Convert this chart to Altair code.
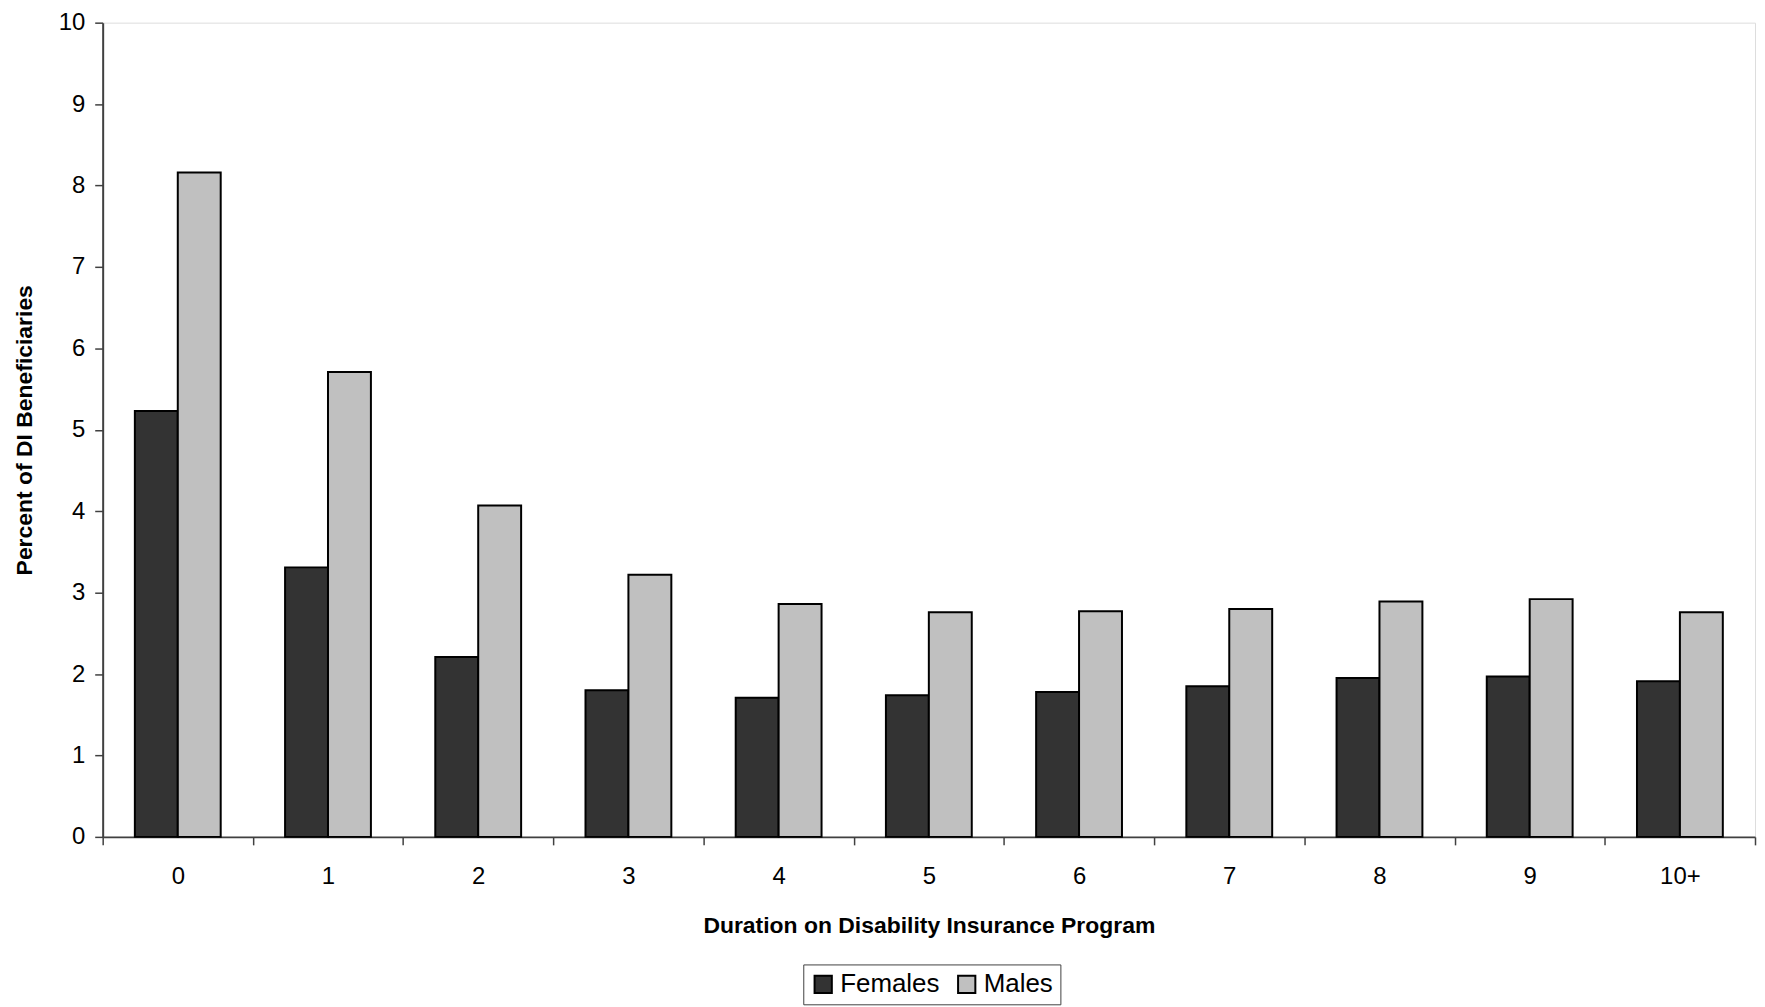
import altair as alt
import pandas as pd

durations = ["0", "1", "2", "3", "4", "5", "6", "7", "8", "9", "10+"]
females = [5.23, 3.31, 2.21, 1.80, 1.71, 1.74, 1.78, 1.85, 1.95, 1.97, 1.91]
males = [8.16, 5.71, 4.07, 3.22, 2.86, 2.76, 2.77, 2.80, 2.89, 2.92, 2.76]
groups = ["Females", "Males"]
colors = ["#333333", "#C0C0C0"]

rows = []
for d, f, m in zip(durations, females, males):
    rows.append({"Duration": d, "Sex": "Females", "Percent": f})
    rows.append({"Duration": d, "Sex": "Males", "Percent": m})
df = pd.DataFrame(rows)

FONT = "Liberation Sans"

chart = alt.Chart(df).mark_bar(stroke="black", strokeWidth=2).encode(
    x=alt.X("Duration:N", sort=durations,
            scale=alt.Scale(paddingInner=0, paddingOuter=0),
            axis=alt.Axis(title="Duration on Disability Insurance Program",
                          labelAngle=0, tickBand="extent", tickSize=8,
                          tickColor="#404040", tickWidth=1.5,
                          domainColor="#404040", domainWidth=2,
                          labelFontSize=24, labelFont=FONT, labelColor="black",
                          labelPadding=20,
                          titleFont=FONT, titleFontSize=23, titleFontWeight="bold",
                          titleColor="black", titlePadding=26)),
    xOffset=alt.XOffset("Sex:N", sort=groups,
                        scale=alt.Scale(paddingInner=0, paddingOuter=0.75)),
    y=alt.Y("Percent:Q",
            scale=alt.Scale(domain=[0, 10], nice=False),
            axis=alt.Axis(title="Percent of DI Beneficiaries",
                          values=list(range(0, 11)), grid=False,
                          tickSize=8, tickColor="#404040", tickWidth=1.5,
                          domainColor="#404040", domainWidth=2,
                          labelFontSize=24, labelFont=FONT, labelColor="black",
                          labelPadding=10,
                          titleFont=FONT, titleFontSize=23, titleFontWeight="bold",
                          titleColor="black", titlePadding=22)),
    color=alt.Color("Sex:N", sort=groups,
                    scale=alt.Scale(domain=groups, range=colors),
                    legend=alt.Legend(title=None, orient="none",
                                      direction="horizontal",
                                      legendX=703, legendY=945,
                                      symbolType="square", symbolSize=300,
                                      symbolStrokeColor="black",
                                      symbolStrokeWidth=2,
                                      symbolOpacity=1,
                                      labelFont=FONT, labelFontSize=26,
                                      labelColor="black", labelOffset=4,
                                      columnPadding=14,
                                      strokeColor="#404040", padding=7,
                                      fillColor="white")),
).properties(
    width=1658, height=817,
    autosize=alt.AutoSizeParams(type="none"),
    padding={"left": 95, "top": 13, "right": 2, "bottom": 172},
).configure_view(
    stroke="#808080", strokeWidth=2
).configure(background="white")

chart.save("out.html", embed_options={"renderer": "svg", "actions": False})
